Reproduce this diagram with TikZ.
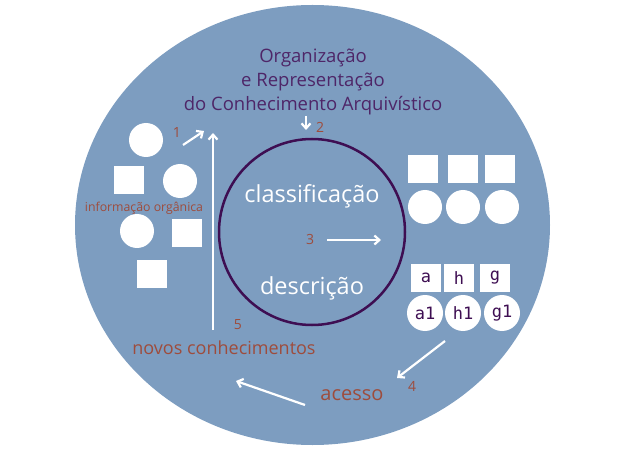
\documentclass[tikz,border=0pt]{standalone}
\usepackage{fontspec}
\setmainfont{Open Sans}
\newfontfamily\monofont{DejaVu Sans Mono}
\usetikzlibrary{arrows.meta}

\definecolor{fundo}{RGB}{125,157,192}
\definecolor{roxo}{RGB}{62,14,82}
\definecolor{titulo}{RGB}{78,38,104}
\definecolor{marrom}{RGB}{158,76,60}

\tikzset{
	quadrado/.style={fill=white, minimum width=30pt, minimum height=28pt, inner sep=0pt},
	bola/.style={circle, fill=white, minimum size=34pt, inner sep=0pt},
	letra/.style={text=roxo, font=\monofont\fontsize{17}{17}\selectfont},
	seta/.style={white, line width=2.2pt, -{Straight Barb[length=5pt,width=9pt]}},
	numero/.style={text=marrom, font=\fontsize{14}{14}\selectfont},
}

\begin{document}
\begin{tikzpicture}[x=1pt, y=-1pt]
	\useasboundingbox (0,0) rectangle (632,449);
	
	% Fondo: la elipse grande
	\fill[fundo] (312.5,225) ellipse [x radius=237.5, y radius=220];
	
	% Titulo
	\node[text=titulo, font=\fontsize{18.5}{24}\selectfont, align=center] (titulo) at (313,82)
		{Organização\\e Representação\\do Conhecimento Arquivístico};
	
	% Circulo central
	\node[circle, draw=roxo, line width=2.5pt, minimum size=186pt] (ciclo) at (312,232) {};
	\node[text=white, font=\fontsize{23.5}{23.5}\selectfont] (classif) at (312,196) {classificação};
	\node[text=white, font=\fontsize{23.5}{23.5}\selectfont] (descr) at (312,288) {descrição};
	
	% Informacion organica (izquierda)
	\node[bola] (e1) at (146,140) {};
	\node[quadrado] (e2) at (129,180) {};
	\node[bola] (e3) at (180,181) {};
	\node[text=marrom, font=\fontsize{12.3}{12.3}\selectfont] (info) at (144,208) {informação orgânica};
	\node[bola] (e4) at (137,231) {};
	\node[quadrado] (e5) at (187,233) {};
	\node[quadrado] (e6) at (152,274) {};
	
	% Grupo de la derecha
	\begin{scope}[xshift=0pt]
		\node[quadrado] (d1) at (423,169) {};
		\node[quadrado] (d2) at (463,169) {};
		\node[quadrado] (d3) at (500,169) {};
		\node[bola] (d4) at (425,207) {};
		\node[bola] (d5) at (463,207) {};
		\node[bola] (d6) at (502,207) {};
	\end{scope}
	
	% Grupo con letras
	\begin{scope}[xshift=0pt]
		\node[quadrado, letra] (qa) at (426,278) {a};
		\node[quadrado, letra] (qh) at (459,278) {h};
		\node[quadrado, letra] (qg) at (495,278) {g};
		\node[bola, letra, minimum size=36pt] (ca) at (425,313) {a1};
		\node[bola, letra, minimum size=36pt] (ch) at (463,313) {h1};
		\node[bola, letra, minimum size=36pt] (cg) at (502,313) {g1};
	\end{scope}
	
	% Textos de abajo
	\node[text=marrom, font=\fontsize{18}{18}\selectfont] (novos) at (224,348) {novos conhecimentos};
	\node[text=marrom, font=\fontsize{20}{20}\selectfont] (acesso) at (352,395) {acesso};
	
	% Numeros
	\node[numero] (n1) at (177,133) {1};
	\node[numero] (n2) at (320,127) {2};
	\node[numero] (n3) at (310,239) {3};
	\node[numero] (n4) at (412,386) {4};
	\node[numero] (n5) at (238,325) {5};
	
	% Puntas de las flechas
	\coordinate (s1a) at (183,145);
	\coordinate (s1b) at (204,131);
	\coordinate (s2a) at (306,116);
	\coordinate (s2b) at (306,130);
	\coordinate (s3a) at (327,240);
	\coordinate (s3b) at (381,240);
	\coordinate (s4a) at (445,341);
	\coordinate (s4b) at (397,378);
	\coordinate (s5a) at (305,405);
	\coordinate (s5b) at (236,381);
	\coordinate (s6a) at (213,330);
	\coordinate (s6b) at (213,133);
	
	% Flechas
	\draw[seta] (s1a) -- (s1b);
	\draw[seta] (s2a) -- (s2b);
	\draw[seta] (s3a) -- (s3b);
	\draw[seta] (s4a) -- (s4b);
	\draw[seta] (s5a) -- (s5b);
	\draw[seta] (s6a) -- (s6b);
\end{tikzpicture}
\end{document}
